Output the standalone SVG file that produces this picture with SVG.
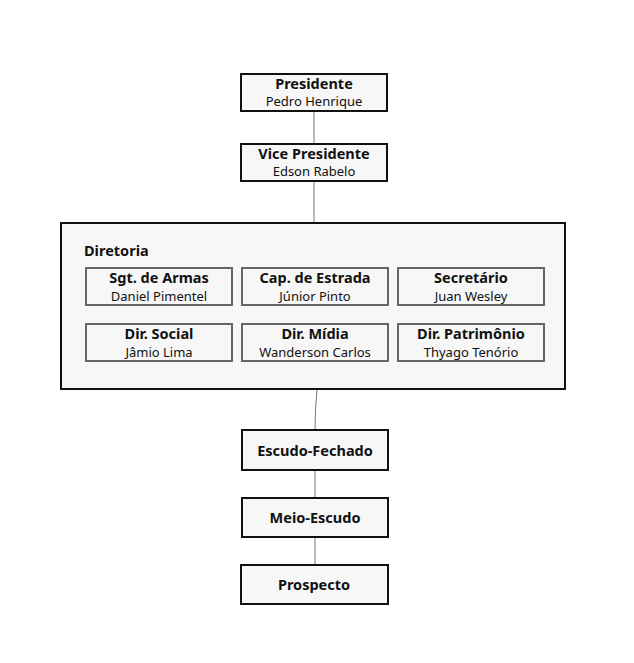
<svg xmlns="http://www.w3.org/2000/svg" width="634" height="663" viewBox="0 0 634 663">
<style>
.n{fill:#f7f7f7;stroke:#111;stroke-width:2}
.s{fill:#f7f7f7;stroke:#666;stroke-width:2}
text{font-family:"Noto Sans","Open Sans",sans-serif;text-anchor:middle;fill:#111}
.b{font-weight:bold;font-size:14.5px}
.r{font-size:13px}
.c{stroke:#777;stroke-width:1;fill:none}
</style>
<rect width="634" height="663" fill="#fff"/>
<g id="connectors">
<line class="c" x1="314" y1="111" x2="314" y2="144"/>
<line class="c" x1="314" y1="181" x2="314" y2="223"/>
<path class="c" d="M317 389 Q315 410 315 430"/>
<line class="c" x1="315" y1="470" x2="315" y2="498"/>
<line class="c" x1="315" y1="537" x2="315" y2="565"/>
</g>
<g id="presidente"><rect class="n" x="241" y="74" width="146" height="37"/><text class="b" x="314" y="89">Presidente</text><text class="r" x="314" y="106">Pedro Henrique</text></g>
<g id="vice"><rect class="n" x="241" y="144" width="146" height="37"/><text class="b" x="314" y="159">Vice Presidente</text><text class="r" x="314" y="176">Edson Rabelo</text></g>
<g id="diretoria"><rect class="n" x="61" y="223" width="504" height="166"/><text class="b" x="84" y="256" style="text-anchor:start">Diretoria</text></g>
<g id="sgt"><rect class="s" x="86" y="268" width="146" height="37"/><text class="b" x="159" y="283">Sgt. de Armas</text><text class="r" x="159" y="301">Daniel Pimentel</text></g>
<g id="cap"><rect class="s" x="242" y="268" width="146" height="37"/><text class="b" x="315" y="283">Cap. de Estrada</text><text class="r" x="315" y="301">Júnior Pinto</text></g>
<g id="sec"><rect class="s" x="398" y="268" width="146" height="37"/><text class="b" x="471" y="283">Secretário</text><text class="r" x="471" y="301">Juan Wesley</text></g>
<g id="social"><rect class="s" x="86" y="324" width="146" height="37"/><text class="b" x="159" y="339">Dir. Social</text><text class="r" x="159" y="357">Jâmio Lima</text></g>
<g id="midia"><rect class="s" x="242" y="324" width="146" height="37"/><text class="b" x="315" y="339">Dir. Mídia</text><text class="r" x="315" y="357">Wanderson Carlos</text></g>
<g id="patrimonio"><rect class="s" x="398" y="324" width="146" height="37"/><text class="b" x="471" y="339">Dir. Patrimônio</text><text class="r" x="471" y="357">Thyago Tenório</text></g>
<g id="escudo"><rect class="n" x="242" y="430" width="146" height="40"/><text class="b" x="315" y="456">Escudo-Fechado</text></g>
<g id="meio"><rect class="n" x="242" y="498" width="146" height="39"/><text class="b" x="315" y="523">Meio-Escudo</text></g>
<g id="prospecto"><rect class="n" x="241" y="565" width="147" height="39"/><text class="b" x="314" y="590">Prospecto</text></g>
</svg>
